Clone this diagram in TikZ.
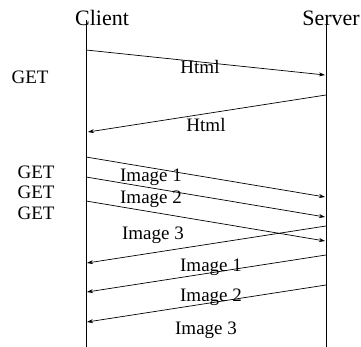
\documentclass[tikz,border=0pt]{standalone}
\usepackage{fontspec}
\setmainfont{Liberation Serif}
\usetikzlibrary{arrows.meta}
\begin{document}
\begin{tikzpicture}[x=1pt,y=-1pt,
  msg/.style={-{Stealth[length=6pt,width=4pt]}, line width=0.7pt},
  life/.style={line width=0.8pt},
  lbl/.style={font=\fontsize{19}{21}\selectfont, inner sep=0pt},
  head/.style={font=\fontsize{22}{24}\selectfont, inner sep=0pt}]
\useasboundingbox (0,0) rectangle (361,347);
% headers
\node[head] (client) at (102,18) {Client};
\node[head] (server) at (331,18) {Server};
% lifelines
\coordinate (ctop) at (86,20);
\coordinate (cbot) at (86,347);
\coordinate (stop) at (326,20);
\coordinate (sbot) at (326,347);
\draw[life] (ctop) -- (cbot);
\draw[life] (stop) -- (sbot);
% message end points
\coordinate (c1) at (86,50);   \coordinate (s1) at (325,75);
\coordinate (s2) at (326,95);  \coordinate (c2) at (88,132);
\coordinate (c3) at (86,157);  \coordinate (s3) at (325,197);
\coordinate (c4) at (86,177);  \coordinate (s4) at (325,217);
\coordinate (c5) at (86,201);  \coordinate (s5) at (325,241);
\coordinate (s6) at (326,226); \coordinate (c6) at (87,263);
\coordinate (s7) at (326,255); \coordinate (c7) at (87,292);
\coordinate (s8) at (326,285); \coordinate (c8) at (87,322);
\draw[msg] (c1) -- (s1);
\draw[msg] (s2) -- (c2);
\draw[msg] (c3) -- (s3);
\draw[msg] (c4) -- (s4);
\draw[msg] (c5) -- (s5);
\draw[msg] (s6) -- (c6);
\draw[msg] (s7) -- (c7);
\draw[msg] (s8) -- (c8);
% left labels
\node[lbl] (get0) at (30,77) {GET};
\node[lbl] (get1) at (36,172) {GET};
\node[lbl] (get2) at (36,192) {GET};
\node[lbl] (get3) at (36,213) {GET};
% message labels
\node[lbl] (h1) at (200,67) {Html};
\node[lbl] (h2) at (206,125) {Html};
\node[lbl] (i1) at (151,177) {Image 1};
\node[lbl] (i2) at (151,199) {Image 2};
\node[lbl] (i3) at (153,235) {Image 3};
\node[lbl] (r1) at (211,267) {Image 1};
\node[lbl] (r2) at (211,297) {Image 2};
\node[lbl] (r3) at (206,330) {Image 3};
\end{tikzpicture}
\end{document}
